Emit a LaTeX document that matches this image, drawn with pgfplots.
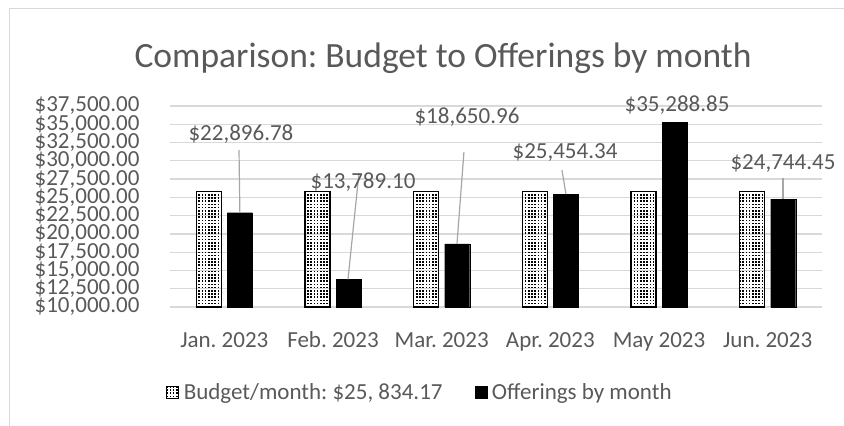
\documentclass[border=0pt]{standalone}
\usepackage{pgfplots}
\pgfplotsset{compat=1.18}
\usepackage{fontspec}
\setmainfont{Carlito}
\usetikzlibrary{patterns}

\definecolor{txt}{HTML}{595959}
\definecolor{gridc}{HTML}{D9D9D9}
\definecolor{lead}{HTML}{A6A6A6}

% dotted fill of the budget bars
\pgfdeclarepatternformonly{budgetdots}{\pgfpoint{-0.5pt}{-0.5pt}}{\pgfpoint{3.2pt}{3.2pt}}{\pgfpoint{3.2pt}{3.2pt}}%
  {\pgfpathrectangle{\pgfpoint{0pt}{0pt}}{\pgfpoint{1.5pt}{1.5pt}}\pgfusepath{fill}}

\tikzset{lbl/.style={text=txt, font=\fontsize{23}{26}\selectfont}}
\newcommand{\usd}[1]{\mbox{\$#1}}

\begin{document}
\frenchspacing
\begin{tikzpicture}
\path[use as bounding box] (0pt,0pt) rectangle (844pt,-426pt);
\draw[gridc, line width=1pt] (9.5pt,-426pt) -- (9.5pt,-8.5pt) -- (844pt,-8.5pt);
\node[text=txt, font=\fontsize{35.5}{42}\selectfont] at (443pt,-58pt) {Comparison: Budget to Offerings by month};

\begin{axis}[
    at={(170pt,-307pt)}, anchor=south west,
    scale only axis, width=652pt, height=201pt,
    xmin=-0.5, xmax=5.5, ymin=10000, ymax=37500,
    clip mode=individual,
    ybar, bar width=0.23,
    axis line style={draw=none},
    major tick length=0pt,
    ymajorgrids, grid style={gridc, line width=1.3pt},
    xtick={0,...,5},
    xticklabels={Jan. 2023, Feb. 2023, Mar. 2023, Apr. 2023, May 2023, Jun. 2023},
    ytick={10000,12500,...,37500},
    scaled y ticks=false,
    yticklabels={{\usd{10,000.00}},{\usd{12,500.00}},{\usd{15,000.00}},{\usd{17,500.00}},{\usd{20,000.00}},{\usd{22,500.00}},
        {\usd{25,000.00}},{\usd{27,500.00}},{\usd{30,000.00}},{\usd{32,500.00}},{\usd{35,000.00}},{\usd{37,500.00}}},
    yticklabel style={anchor=east, xshift=-27pt},
    xticklabel style={text height=16pt, text depth=5pt, yshift=-21pt},
    ticklabel style={text=txt, font=\fontsize{23}{26}\selectfont},
    legend columns=2,
    legend cell align=left,
    legend style={at={(-0.011,-0.423)}, anchor=west, draw=none, fill=none,
        text=txt, font=\fontsize{23}{26}\selectfont,
        /tikz/every even column/.append style={column sep=30pt},
        /tikz/every odd column/.append style={column sep=3pt}},
]
\addplot[bar shift=-0.143, draw=black, line width=1.5pt, pattern=budgetdots, pattern color=black,
    legend image code/.code={\draw[black, line width=0.8pt, pattern=budgetdots] (0pt,-6pt) rectangle (12pt,6pt);}]
  coordinates {(0,25834.17) (1,25834.17) (2,25834.17) (3,25834.17) (4,25834.17) (5,25834.17)};
\addplot[bar shift=0.143, draw=black, fill=black,
    legend image code/.code={\fill[black] (0pt,-6pt) rectangle (12pt,6pt);}]
  coordinates {(0,22896.78) (1,13789.10) (2,18650.96) (3,25454.34) (4,35288.85) (5,24744.45)};
\legend{{Budget/month: \$25, 834.17}, Offerings by month}

% data labels with leader lines
\draw[lead, line width=1.2pt] (axis cs:0.135,31478) -- (axis cs:0.143,22897);
\draw[lead, line width=1.2pt] (axis cs:1.239,28331) -- (axis cs:1.138,13789);
\draw[lead, line width=1.2pt] (axis cs:2.205,31204) -- (axis cs:2.141,18651);
\draw[lead, line width=1.2pt] (axis cs:3.107,28742) -- (axis cs:3.144,25454);
\draw[lead, line width=1.2pt] (axis cs:5.141,27647) -- (axis cs:5.141,24744);
\node[lbl] at (axis cs:0.153,33666) {\$22,896.78};
\node[lbl] at (axis cs:1.276,27100) {\$13,789.10};
\node[lbl] at (axis cs:2.233,35992) {\$18,650.96};
\node[lbl] at (axis cs:3.135,31204) {\$25,454.34};
\node[lbl] at (axis cs:4.166,37634) {\$35,288.85};
\node[lbl] at (axis cs:5.141,29699) {\$24,744.45};
\end{axis}
\end{tikzpicture}
\end{document}
